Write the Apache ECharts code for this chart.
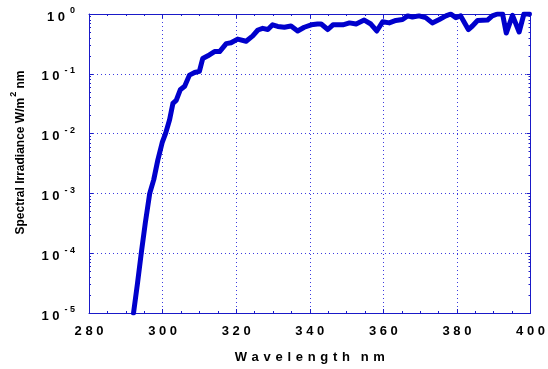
<html>
<head>
    <meta charset="utf-8">
    <title>Spectral Irradiance</title>
    <script src="https://cdn.jsdelivr.net/npm/echarts@6/dist/echarts.min.js"></script>
</head>
<body style="margin: 0">
<div id="container" style="width: 548px; height: 369px"></div>
<script>
    // 波长 (nm) 与光谱辐照度 (W/m2 nm)
    var wavelength = [292.1, 293.2, 294.2, 295.3, 296.5, 297.6, 298.7, 299.9, 300.8, 301.9,
        302.8, 303.7, 304.8, 306.0, 307.3, 308.7, 310.0, 310.9, 312.3, 314.1,
        315.5, 317.3, 318.6, 320.4, 322.7, 324.5, 325.9, 327.2, 328.6, 329.9,
        331.3, 333.1, 334.9, 336.7, 338.5, 340.4, 342.1, 343.1, 344.9, 346.3,
        349.0, 350.8, 352.6, 354.8, 356.6, 358.2, 359.8, 361.6, 363.4, 365.2,
        366.6, 367.9, 369.7, 371.5, 373.3, 375.2, 377.0, 378.3, 379.7, 381.0,
        381.9, 383.1, 384.2, 385.6, 388.3, 389.6, 391.0, 392.4, 393.4, 395.1,
        396.9, 398.2, 399.7];
    var irradiance = [1e-5, 3.2e-5, 1e-4, 3.2e-4, 1e-3, 1.7e-3, 3.6e-3, 7.1e-3, 1.0e-2, 1.7e-2,
        3.2e-2, 3.6e-2, 5.4e-2, 6.2e-2, 9.5e-2, 0.105, 0.11, 0.18, 0.20, 0.235,
        0.235, 0.32, 0.33, 0.38, 0.35, 0.43, 0.54, 0.575, 0.55, 0.66,
        0.62, 0.60, 0.63, 0.52, 0.60, 0.66, 0.68, 0.68, 0.55, 0.66,
        0.66, 0.71, 0.68, 0.79, 0.68, 0.52, 0.74, 0.71, 0.78, 0.81,
        0.93, 0.89, 0.93, 0.87, 0.71, 0.81, 0.93, 1.0, 0.87, 0.93,
        0.74, 0.55, 0.63, 0.78, 0.79, 0.93, 1.0, 1.0, 0.48, 0.95,
        0.50, 1.0, 1.0];
    // 对数轴的次刻度 2..9 × 10^n
    var minorTicks = [];
    for (var p = -5; p < 0; p++) {
        for (var m = 2; m <= 9; m++) {
            minorTicks.push(m * Math.pow(10, p));
        }
    }

    var axisColor = '#1a1ac8';
    var font = 'Liberation Sans, Arial, sans-serif';

    var data = [];
    for (var i = 0; i < wavelength.length; i++) {
        data.push([wavelength[i], irradiance[i]]);
    }

    var spaced = function (v) {
        return String(v).split('').join(' ');
    };
    var powerLabel = function (v) {
        var e = Math.round(Math.log(v) / Math.LN10);
        return '{b|1 0}{e|' + (e < 0 ? '- ' + (-e) : e) + '}';
    };
    var powerRich = {
        b: {fontSize: 13, fontWeight: 'bold', fontFamily: font, color: '#000', padding: [6, 0, 0, 0]},
        e: {fontSize: 9, fontWeight: 'bold', fontFamily: font, color: '#000', padding: [0, 0, 6, 5]}
    };

    var myChart = echarts.init(document.getElementById('container'));
    var option = {
        animation: false,
        backgroundColor: '#fff',
        grid: {left: 89, right: 16, top: 14, bottom: 56},
        xAxis: [
            {
                type: 'value', min: 280, max: 400, interval: 20,
                name: 'W\u200Aa\u200Av\u200Ae\u200Al\u200Ae\u200An\u200Ag\u200At\u200Ah   n\u200Am'.split('\u200A').join(' \u200A'),
                nameLocation: 'middle', nameGap: 38,
                nameTextStyle: {fontSize: 13, fontWeight: 'bold', fontFamily: font, color: '#000'},
                axisLine: {lineStyle: {color: axisColor, width: 1}},
                axisTick: {inside: true, length: 4, lineStyle: {color: axisColor}},
                minorTick: {show: true, splitNumber: 4, length: 2, lineStyle: {color: axisColor}},
                axisLabel: {formatter: spaced, margin: 12, fontSize: 13, fontWeight: 'bold', fontFamily: font, color: '#000'},
                splitLine: {show: true, lineStyle: {color: '#3c3ce0', type: [1, 3], width: 1}}
            },
            {
                type: 'value', min: 280, max: 400, interval: 20, position: 'top',
                axisLine: {lineStyle: {color: axisColor, width: 1}},
                axisTick: {inside: true, length: 4, lineStyle: {color: axisColor}},
                minorTick: {show: true, splitNumber: 4, length: 2, lineStyle: {color: axisColor}},
                axisLabel: {show: false},
                splitLine: {show: false}
            }
        ],
        yAxis: [
            {
                type: 'log', logBase: 10, min: 1e-5, max: 1,
                name: '{a|Spectral Irradiance W/m}{s|2}{a| nm}',
                nameLocation: 'middle', nameGap: 62, nameRotate: 90,
                nameTextStyle: {
                    padding: [0, 0, 0, 22],
                    rich: {
                        a: {fontSize: 12, fontWeight: 'bold', fontFamily: font, color: '#000', padding: [6, 0, 0, 0]},
                        s: {fontSize: 9, fontWeight: 'bold', fontFamily: font, color: '#000', padding: [0, 0, 8, 1]}
                    }
                },
                axisLine: {show: true, lineStyle: {color: axisColor, width: 1}},
                axisTick: {inside: true, length: 4, lineStyle: {color: axisColor}},
                axisLabel: {formatter: powerLabel, rich: powerRich, margin: 14},
                splitLine: {show: true, lineStyle: {color: '#3c3ce0', type: [1, 3], width: 1}}
            },
            {
                type: 'log', logBase: 10, min: 1e-5, max: 1, position: 'left',
                axisLine: {show: false},
                axisTick: {inside: true, length: 2, customValues: minorTicks, lineStyle: {color: axisColor}},
                axisLabel: {show: false},
                splitLine: {show: false}
            },
            {
                type: 'log', logBase: 10, min: 1e-5, max: 1, position: 'right',
                axisLine: {show: true, lineStyle: {color: axisColor, width: 1}},
                axisTick: {inside: true, length: 4, lineStyle: {color: axisColor}},
                axisLabel: {show: false},
                splitLine: {show: false}
            },
            {
                type: 'log', logBase: 10, min: 1e-5, max: 1, position: 'right',
                axisLine: {show: false},
                axisTick: {inside: true, length: 2, customValues: minorTicks, lineStyle: {color: axisColor}},
                axisLabel: {show: false},
                splitLine: {show: false}
            }
        ],
        series: [
            {
                type: 'line',
                data: data,
                showSymbol: false,
                symbol: 'none',
                lineStyle: {color: '#0000cc', width: 5, join: 'round', cap: 'round'}
            }
        ]
    };
    myChart.setOption(option);
</script>
</body>
</html>
